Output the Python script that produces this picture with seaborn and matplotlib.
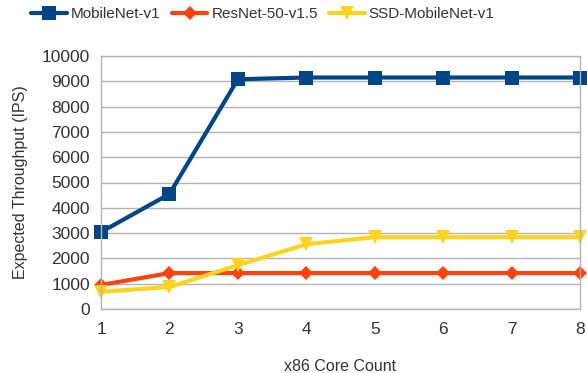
import numpy as np
import pandas as pd
import matplotlib
matplotlib.use('Agg')
import matplotlib.pyplot as plt
import seaborn as sns

cores = [1, 2, 3, 4, 5, 6, 7, 8]
mobilenet = [3040, 4545, 9080, 9150, 9150, 9150, 9150, 9150]
resnet = [950, 1420, 1420, 1420, 1420, 1420, 1420, 1420]
ssd = [680, 870, 1730, 2560, 2840, 2840, 2840, 2840]
models = ['MobileNet-v1', 'ResNet-50-v1.5', 'SSD-MobileNet-v1']

df = pd.DataFrame({
    'cores': cores * 3,
    'ips': mobilenet + resnet + ssd,
    'model': [m for m in models for _ in cores],
})

sns.set_theme(style='white')
plt.rcParams['font.family'] = ['Liberation Sans', 'DejaVu Sans']
plt.rcParams['text.color'] = '#333333'

palette = {'MobileNet-v1': '#004586', 'ResNet-50-v1.5': '#ff420e', 'SSD-MobileNet-v1': '#ffd320'}
markers = {'MobileNet-v1': 's', 'ResNet-50-v1.5': 'D', 'SSD-MobileNet-v1': 'v'}
sizes = {'MobileNet-v1': 10, 'ResNet-50-v1.5': 7, 'SSD-MobileNet-v1': 10}

fig = plt.figure(figsize=(5.87, 3.73), dpi=100)
ax = fig.add_axes([101 / 587, 1 - 309 / 373, 479 / 587, 253 / 373])

for m in models:
    sub = df[df.model == m]
    sns.lineplot(data=sub, x='cores', y='ips', ax=ax, color=palette[m], marker=markers[m],
                 markersize=sizes[m], markeredgewidth=0, linewidth=3, label=m)

ax.set_xlim(1, 8)
ax.set_ylim(0, 10000)
ax.set_yticks(range(0, 10001, 1000))
ax.set_xticks(cores)
ax.yaxis.grid(True, color='#b3b3b3', linewidth=1)
ax.set_axisbelow(True)
for s in ax.spines.values():
    s.set_color('#b3b3b3')
    s.set_linewidth(1)
ax.tick_params(axis='x', direction='out', length=5, color='#b3b3b3', labelsize=12.5, labelcolor='#333333', pad=4)
ax.tick_params(axis='y', length=0, labelsize=12.5, labelcolor='#333333', pad=8)
for l in ax.lines:
    l.set_clip_on(False)

ax.set_xlabel('x86 Core Count', fontsize=11.5, color='#333333', labelpad=16)
ax.set_ylabel('Expected Throughput (IPS)', fontsize=11.5, color='#333333', labelpad=10)

ax.legend(loc='center', bbox_to_anchor=(0.338, 1.166), ncol=3, frameon=False,
          fontsize=11, handlelength=2.35, handletextpad=0.26, columnspacing=0.72, borderaxespad=0)

fig.savefig('out.png', dpi=100)
